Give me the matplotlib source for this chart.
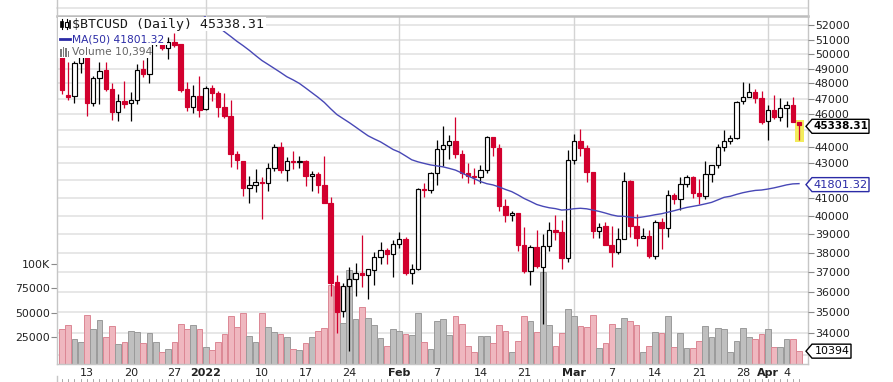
import numpy as np
import pandas as pd
import matplotlib
matplotlib.use("Agg")
import matplotlib.pyplot as plt
import matplotlib.dates as mdates
import matplotlib.transforms as mtransforms
from matplotlib.patches import Rectangle, Polygon
from matplotlib.lines import Line2D
from matplotlib.ticker import FixedLocator, NullLocator, FixedFormatter

# ---------------- data ----------------
dates = pd.date_range("2021-12-09", "2022-04-06", freq="D")

opens = [50471, 47264, 47155, 49347, 50114, 46709, 48379, 48900, 47653, 46134,
         46849, 46707, 46886, 48937, 48629, 50806, 50854, 50428, 50802, 50679,
         47623, 46490, 47169, 46311, 47680, 47343, 46459, 45899, 43565, 43153,
         41561, 41734, 41910, 41819, 42742, 43946, 42599, 43102, 43080, 43118,
         42250, 42374, 41744, 40700, 36472, 35047, 36275, 36654, 36950, 36841,
         37129, 37780, 38151, 37920, 38481, 38744, 36945, 37150, 41501, 41441,
         42406, 43854, 44097, 44348, 43571, 42412, 42237, 42158, 42587, 44579,
         43937, 40553, 40022, 40119, 38424, 37068, 38285, 37278, 38334, 39213,
         39098, 37706, 43195, 44358, 43926, 42458, 39148, 39404, 38429, 38060,
         38742, 41975, 39440, 38794, 38885, 37846, 39664, 39335, 41140, 40944,
         41794, 42191, 41246, 41074, 42364, 42886, 43964, 44349, 44505, 46822,
         47101, 47456, 47063, 45554, 46285, 45809, 46407, 46580, 45497]
highs = [50797, 49458, 49485, 50724, 50205, 48475, 49473, 49425, 48004, 47313,
         48189, 47471, 49329, 49568, 51332, 51814, 51176, 51196, 51450, 50679,
         48119, 47879, 48472, 47827, 47881, 47510, 47406, 46929, 43748, 43153,
         42228, 42663, 42199, 43001, 44135, 44278, 43346, 43724, 43436, 43179,
         42534, 42478, 43413, 41060, 36835, 36433, 37247, 37444, 38919, 37148,
         38016, 38576, 38266, 38647, 39116, 38835, 37388, 41527, 41847, 42500,
         44401, 45293, 44727, 45821, 43810, 42992, 42712, 42876, 44667, 44579,
         44132, 40945, 40246, 40119, 39394, 38430, 39204, 38968, 39629, 40005,
         39774, 43760, 44793, 45077, 44075, 42479, 39566, 39640, 39430, 39304,
         42465, 42004, 40081, 39308, 39209, 39742, 39856, 41465, 41287, 42195,
         42316, 42241, 42048, 43124, 42893, 44131, 44999, 44735, 46827, 48086,
         48022, 47655, 47512, 46616, 47214, 47033, 46875, 47106, 45510]
lows = [47320, 46942, 46751, 48725, 45894, 46547, 46671, 47529, 45618, 45598,
        46419, 45579, 46630, 48450, 48050, 50514, 50236, 49623, 50499, 47414,
        46202, 46060, 45819, 46288, 46856, 45835, 45752, 42798, 42646, 41077,
        40672, 41338, 39796, 41407, 42529, 42447, 41982, 42670, 42691, 41681,
        41392, 41242, 40672, 35791, 34009, 34785, 33184, 35779, 36234, 35629,
        36361, 37406, 37437, 36733, 38224, 36832, 36403, 37093, 41038, 41244,
        41748, 42807, 43232, 43334, 42114, 41852, 41774, 41867, 42428, 43456,
        40249, 39639, 39688, 38113, 36950, 36355, 37207, 34459, 38111, 38677,
        37174, 37518, 42952, 43435, 41914, 38805, 38777, 38757, 37260, 37957,
        38706, 38833, 38347, 38773, 37728, 37681, 38220, 38848, 40662, 40302,
        41602, 41004, 40667, 40948, 41877, 42726, 43706, 44166, 44437, 46690,
        47101, 46746, 45390, 44403, 45695, 45604, 45173, 45544, 44380]
closes = [47545, 47140, 49389, 50053, 46702, 48343, 48864, 47632, 46131, 46834,
          46681, 46915, 48909, 48629, 50784, 50822, 50429, 50809, 50640, 47588,
          46444, 47178, 46306, 47686, 47345, 46458, 45897, 43569, 43160, 41558,
          41734, 41912, 41822, 42736, 43949, 42592, 43100, 43080, 43113, 42251,
          42375, 41744, 40681, 36457, 35030, 36276, 36654, 36954, 36852, 37138,
          37784, 38138, 37917, 38483, 38743, 36952, 37154, 41500, 41441, 42412,
          43840, 44118, 44338, 43565, 42407, 42244, 42197, 42586, 44575, 43961,
          40538, 40031, 40122, 38431, 37075, 38286, 37296, 38328, 39214, 39105,
          37709, 43193, 44354, 43924, 42451, 39137, 39400, 38420, 38062, 38737,
          41982, 39437, 38794, 38904, 37850, 39666, 39338, 41143, 40951, 41801,
          42190, 41247, 41077, 42358, 42892, 43960, 44348, 44500, 46820, 47128,
          47466, 47062, 45539, 46282, 45811, 46407, 46580, 45497, 45338.31]
volumes = [32700, 37700, 22700, 19700, 47700, 32700, 42700, 24700, 36300, 17700,
           19700, 31300, 29700, 18700, 28700, 20000, 9700, 12300, 19700, 38700,
           32700, 37700, 32700, 14700, 11300, 19700, 27700, 46300, 35300, 49700,
           26300, 19700, 49700, 34700, 29700, 27700, 24700, 12700, 11300, 18700,
           24700, 31300, 33700, 78000, 77000, 39000, 94000, 43500, 56000, 44000,
           37500, 23500, 15300, 33000, 31000, 28000, 27000, 49000, 20000, 13000,
           41500, 43700, 26500, 46000, 38500, 16000, 10000, 26000, 26000, 19000,
           37700, 31300, 9700, 21300, 46300, 41300, 29700, 92000, 37700, 16000,
           28700, 53700, 46300, 36300, 35300, 47700, 13700, 18700, 38700, 33700,
           44700, 41300, 37700, 9700, 16000, 29700, 28700, 46300, 14700, 28700,
           13700, 13700, 20300, 36300, 25300, 33700, 32700, 9700, 21300, 33700,
           25300, 22700, 27700, 32700, 14700, 14700, 22700, 22700, 10394]
# closes of the 49 sessions before the first candle (needed for MA(50))
prior_closes = [62210, 60692, 61393, 60931, 63039, 60364, 58483, 60622, 62228, 61888,
                61319, 61004, 63226, 62970, 61453, 61125, 61528, 63327, 67566, 66971,
                64996, 64950, 64155, 64470, 65467, 63557, 60162, 60369, 56943, 58120,
                59698, 58731, 56289, 57570, 56280, 57274, 53570, 54816, 57248, 57807,
                57005, 57229, 56477, 53598, 49253, 49368, 50582, 50700, 50504]

price_ticks = list(range(34000, 53000, 1000))
hidden_price_labels = {42000, 45000}   # covered by the value tags in the reference
volume_ticks = [25000, 50000, 75000, 100000]
volume_tick_labels = ["25000", "50000", "75000", "100K"]
xtick_dates = ["2021-12-13", "2021-12-20", "2021-12-27", "2022-01-01", "2022-01-10",
               "2022-01-17", "2022-01-24", "2022-02-01", "2022-02-07", "2022-02-14",
               "2022-02-21", "2022-03-01", "2022-03-07", "2022-03-14", "2022-03-21",
               "2022-03-28", "2022-04-01", "2022-04-04"]
xtick_labels = ["13", "20", "27", "2022", "10", "17", "24", "Feb", "7", "14", "21",
                "Mar", "7", "14", "21", "28", "Apr", "4"]
bold_labels = {"2022", "Feb", "Mar", "Apr"}
month_starts = ["2022-01-01", "2022-02-01", "2022-03-01", "2022-04-01"]

# ---------------- style ----------------
RED = "#d2002e"
MA_COL = "#4848b6"
GRID = "#e3e3e3"
FRAME = "#c6c6c6"

W, H = 893, 382
fig = plt.figure(figsize=(W / 100, H / 100), dpi=100)
fig.patch.set_facecolor("white")
L, R, T, B = 57, 808, 16, 364
rect = [L / W, 1 - B / H, (R - L) / W, (B - T) / H]

vax = fig.add_axes(rect)
ax = vax.twinx()

x = mdates.date2num(dates.to_pydatetime())
prev_close = [prior_closes[-1]] + closes[:-1]

# limits
ax.set_yscale("log")
ax.set_ylim(32589, 52686)
vbot, vtop = -2770, 353900
vax.set_ylim(vbot, vtop)
vax.set_xlim(x[0] - 0.8, x[-1] + 1.44)

# gridlines (behind volume)
gtrans = mtransforms.blended_transform_factory(vax.transAxes, ax.transData)
for p in range(33000, 54000, 1000):
    vax.add_line(Line2D([0, 1], [p, p], transform=gtrans, color=GRID, lw=1.2, zorder=0.5))
for d in month_starts:
    vax.axvline(mdates.date2num(pd.Timestamp(d)), color="#d4d4d4", lw=1.0, zorder=0.6)

# volume bars
vfc = ["#efb7bf" if c < pc else "#bfbfbf" for c, pc in zip(closes, prev_close)]
vec = ["#dc8794" if c < pc else "#9a9a9a" for c, pc in zip(closes, prev_close)]
vax.bar(x, np.array(volumes) - vbot, bottom=vbot, width=0.92, color=vfc,
        edgecolor=vec, linewidth=0.7, zorder=2)

# highlight last candle
ax.add_patch(Rectangle((x[-1] - 0.72, lows[-1] * 0.997), 1.44,
                       highs[-1] * 1.003 - lows[-1] * 0.997,
                       facecolor="#f3ec5c", edgecolor="none", zorder=2.5))

# candles
for xi, o, h, l, c, pc in zip(x, opens, highs, lows, closes, prev_close):
    col = RED if c < pc else "black"
    ax.vlines(xi, l, h, color=col, lw=0.9, zorder=3)
    lo, hi = min(o, c), max(o, c)
    fc = "white" if c > o else col
    ax.bar(xi, hi - lo, bottom=lo, width=0.7, facecolor=fc, edgecolor=col,
           linewidth=0.85, zorder=4)

# MA(50)
ma = pd.Series(prior_closes + closes).rolling(50).mean().to_numpy()[len(prior_closes):]
ax.plot(x, ma, color=MA_COL, lw=1.0, zorder=5)

# axes cosmetics
for s in ax.spines.values():
    s.set_visible(False)
for k in ["left", "right", "bottom"]:
    vax.spines[k].set_color(FRAME)
    vax.spines[k].set_linewidth(1.0)
vax.spines["top"].set_color("#bdbdbd")
vax.spines["top"].set_linewidth(1.8)

ax.yaxis.set_major_locator(FixedLocator(price_ticks))
ax.yaxis.set_major_formatter(FixedFormatter(
    ["" if v in hidden_price_labels else str(v) for v in price_ticks]))
ax.yaxis.set_minor_locator(NullLocator())
ax.tick_params(axis="y", which="major", direction="out", length=4, width=0.8,
               color="#8a8a8a", pad=1, labelsize=7.9, labelcolor="#222222")

vax.yaxis.set_major_locator(FixedLocator(volume_ticks))
vax.yaxis.set_major_formatter(FixedFormatter(volume_tick_labels))
vax.tick_params(axis="y", direction="out", length=4, width=0.8, color="#8a8a8a",
                pad=1, labelsize=7.9, labelcolor="#222222")

xt = [mdates.date2num(pd.Timestamp(d)) for d in xtick_dates]
vax.xaxis.set_major_locator(FixedLocator(xt))
vax.xaxis.set_major_formatter(FixedFormatter(xtick_labels))
vax.xaxis.set_minor_locator(NullLocator())
vax.tick_params(axis="x", length=0, pad=3, labelsize=8, labelcolor="#222222")
for lab in vax.get_xticklabels():
    if lab.get_text() in bold_labels:
        lab.set_fontweight("bold")


# ---------------- overlays in pixel coordinates ----------------
def fx(px):
    return px / W


def fy(py):
    return 1 - py / H


def pline(xs, ys, **kw):
    fig.add_artist(Line2D([fx(v) for v in xs], [fy(v) for v in ys],
                          transform=fig.transFigure, **kw))


def prect(x0, y0, x1, y1, **kw):
    fig.add_artist(Rectangle((fx(x0), fy(y1)), fx(x1) - fx(x0), fy(y0) - fy(y1),
                             transform=fig.transFigure, **kw))


# strip of the panel above
jan1_px = vax.transData.transform((mdates.date2num(pd.Timestamp("2022-01-01")), 0))[0]
pline([L, R], [8, 8], color=GRID, lw=1.2, zorder=0.2)
pline([L, L], [0, 16], color=FRAME, lw=1.0, zorder=0.3)
pline([R, R], [0, 16], color=FRAME, lw=1.0, zorder=0.3)
pline([jan1_px, jan1_px], [0, 16], color="#d4d4d4", lw=1.0, zorder=0.3)

# strip of the panel below: day tick row
for xi in x:
    px = vax.transData.transform((xi, 0))[0]
    pline([px, px], [379, 382], color="#9a9a9a", lw=0.6, zorder=0.3)
pline([L, L], [376, 382], color=FRAME, lw=1.0, zorder=0.3)

# legend boxes
prect(L + 0.6, 17.2, 266, 31, facecolor="white", edgecolor="none", zorder=6)
prect(L + 0.6, 31, 167, 45, facecolor="white", edgecolor="none", zorder=6)
prect(L + 0.6, 45, 149, 58, facecolor="white", edgecolor="none", zorder=6)

# icon line 1 (mini candles)
pline([61.5, 61.5], [19, 29], color="black", lw=0.8, zorder=7)
prect(60, 21, 63, 27, facecolor="black", edgecolor="black", lw=0.5, zorder=7)
pline([66.5, 66.5], [19, 29], color="black", lw=0.8, zorder=7)
prect(65, 22, 68, 27, facecolor="white", edgecolor="black", lw=0.8, zorder=8)
pline([70, 70], [21, 28], color="black", lw=1.2, zorder=7)
fig.text(fx(72), fy(24.5), "$BTCUSD (Daily) 45338.31", family="DejaVu Sans Mono",
         fontsize=9.5, color="#1a1a1a", va="center", ha="left", zorder=9)

pline([60, 70], [39, 39], color="#2b2ba6", lw=2.0, zorder=7)
fig.text(fx(72.5), fy(39), "MA(50) 41801.32", family="DejaVu Sans", fontsize=7.7,
         color="#2b2ba6", va="center", ha="left", zorder=9)

for bx, bh in zip([61, 63.5, 66, 68.5], [8, 10, 9, 6]):
    prect(bx - 0.9, 57 - bh, bx + 0.9, 57, facecolor="#7a7a7a", edgecolor="none", zorder=7)
fig.text(fx(72.5), fy(52), "Volume 10,394", family="DejaVu Sans", fontsize=7.7,
         color="#666666", va="center", ha="left", zorder=9)


# right side tags
def tag(py, text, right, ec, tc, weight="normal", size=8.0):
    x0, x1 = R - 2, R + 4
    pts = [(x0, py), (x1, py - 7), (right, py - 7), (right, py + 7), (x1, py + 7)]
    fig.add_artist(Polygon([(fx(a), fy(b)) for a, b in pts], closed=True,
                           transform=fig.transFigure, facecolor="white",
                           edgecolor=ec, lw=1.0, zorder=10))
    fig.text(fx((x1 + right) / 2 + 0.5), fy(py), text, fontsize=size, color=tc,
             fontweight=weight, ha="center", va="center", zorder=11)


def price_px(p):
    return H - ax.transData.transform((x[-1], p))[1]


def vol_px(v):
    return H - vax.transData.transform((x[-1], v))[1]


tag(price_px(closes[-1]) + 1.5, "45338.31", 869, "black", "black", weight="bold", size=7.5)
tag(price_px(ma[-1]) + 1, "41801.32", 869, "#2b2ba6", "#2b2ba6", size=8.2)
tag(vol_px(volumes[-1]), "10394", 851, "black", "black", size=7.9)

fig.savefig("out.png", dpi=100, facecolor="white")
